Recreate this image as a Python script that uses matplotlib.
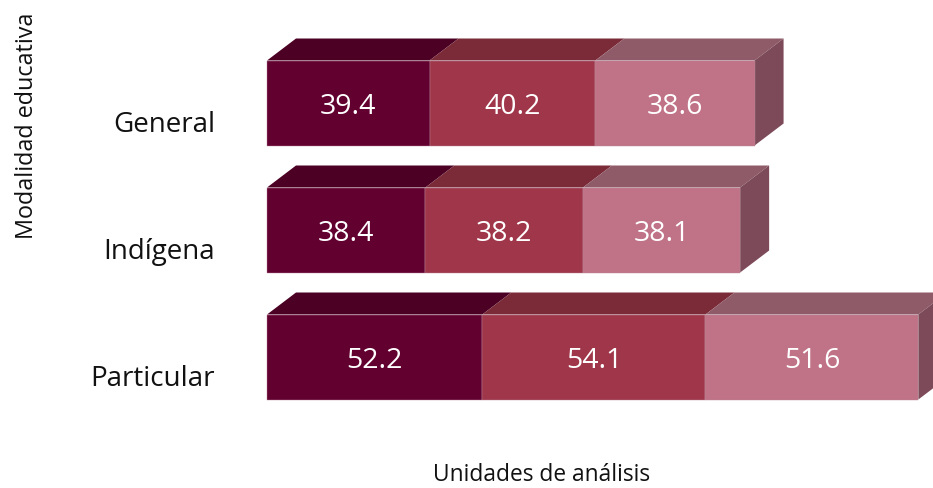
import numpy as np
import matplotlib
matplotlib.use("Agg")
import matplotlib.pyplot as plt

plt.rcParams["font.family"] = ["Open Sans", "DejaVu Sans"]

categories = ["General", "Indígena", "Particular"]
series_a = [39.4, 38.4, 52.2]
series_b = [40.2, 38.2, 54.1]
series_c = [38.6, 38.1, 51.6]

FACE = ["#620030", "#A03649", "#C07286"]
TOP = ["#4B0024", "#7B2A38", "#905B68"]
SIDE = "#7C4A58"
EDGE = "#B98A9C"

W, H = 933, 488
PX_X = 4.125    # px per data unit
PX_Y = 127.0    # px per category
X0 = 267        # px of the value origin
Y0 = 103        # px of the first bar centre
BAR_H = 85 / PX_Y
DX = 29 / PX_X  # 3d depth
DY = 22 / PX_Y

fig = plt.figure(figsize=(W / 100, H / 100), dpi=100)
fig.patch.set_facecolor("white")
ax = fig.add_axes([0, 0, 1, 1])
ax.set_xlim(-X0 / PX_X, (W - X0) / PX_X)
ax.set_ylim((H - Y0) / PX_Y, -Y0 / PX_Y)
ax.axis("off")

y = np.arange(len(categories))
left = np.zeros(len(categories))
for vals, face, top in zip((series_a, series_b, series_c), FACE, TOP):
    vals = np.array(vals)
    ax.barh(y, vals, left=left, height=BAR_H, color=face,
            edgecolor=EDGE, linewidth=0.3, zorder=3)
    for i in y:
        x1, x2 = left[i], left[i] + vals[i]
        yt = i - BAR_H / 2
        ax.fill([x1, x2, x2 + DX, x1 + DX], [yt, yt, yt - DY, yt - DY],
                color=top, lw=0, zorder=2)
        ax.text((x1 + x2) / 2, i + 0.03, f"{vals[i]:.1f}", color="white",
                fontsize=20.5, ha="center", va="center", zorder=5)
    left = left + vals

for i in y:
    yt, yb = i - BAR_H / 2, i + BAR_H / 2
    xr = left[i]
    ax.fill([xr, xr + DX, xr + DX, xr], [yt, yt - DY, yb - DY, yb],
            color=SIDE, lw=0, zorder=2)
    ax.text(-52 / PX_X, i + 0.17, categories[i], color="#111111",
            fontsize=20, ha="right", va="center")

fig.text(27 / W, 1 - 126 / H, "Modalidad educativa", rotation=90, fontsize=16.8,
         color="#111111", ha="center", va="center")
fig.text(542 / W, 1 - 475 / H, "Unidades de análisis", fontsize=16.4,
         color="#111111", ha="center", va="center")

fig.savefig("out.png", dpi=100)
